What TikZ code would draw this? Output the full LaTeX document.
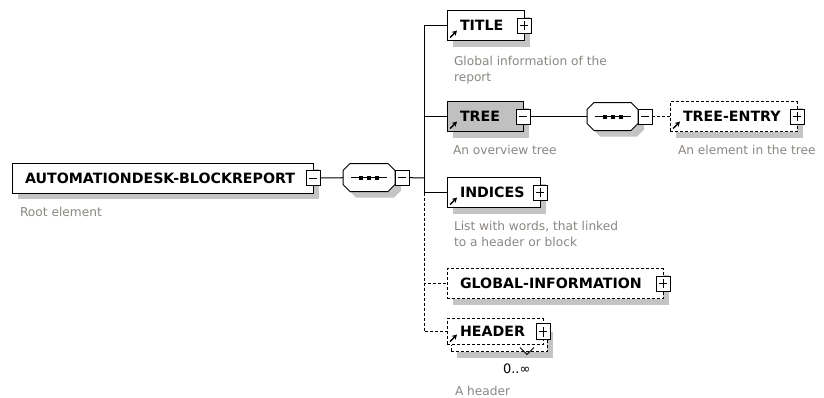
\documentclass[tikz,border=0pt]{standalone}
\usepackage{fontspec}
\setmainfont{DejaVu Sans}
\usepackage{tikz}
\tikzset{
  every node/.style = {
    inner sep = 0pt,
    outer sep = 0pt
  }
}
\usetikzlibrary{
arrows.meta,
shadows
}
\definecolor{descgray}{RGB}{138,134,130}
\definecolor{shadowgray}{RGB}{196,196,196}
\definecolor{treegray}{RGB}{192,192,192}

% octagon of a sequence compositor, drawn round an empty node
\newcommand\compositor[1]{%
  \fill [shadowgray, transform canvas = {shift = {(6pt,-6pt)}}]
    ([xshift = 7pt]#1.north west) -- ([xshift = -7pt]#1.north east)
    -- ([yshift = -7pt]#1.north east) -- ([yshift = 7pt]#1.south east)
    -- ([xshift = -7pt]#1.south east) -- ([xshift = 7pt]#1.south west)
    -- ([yshift = 7pt]#1.south west) -- ([yshift = -7pt]#1.north west) -- cycle;
  \draw [fill = white]
    ([xshift = 7pt]#1.north west) -- ([xshift = -7pt]#1.north east)
    -- ([yshift = -7pt]#1.north east) -- ([yshift = 7pt]#1.south east)
    -- ([xshift = -7pt]#1.south east) -- ([xshift = 7pt]#1.south west)
    -- ([yshift = 7pt]#1.south west) -- ([yshift = -7pt]#1.north west) -- cycle;
  \draw ([xshift = -18pt]#1.center) -- ([xshift = 18pt]#1.center);
  \foreach \dx in {-8, 0, 8}
    \fill ([xshift = \dx pt]#1.center) +(-2pt,-2pt) rectangle +(2pt,2pt);
}

\begin{document}
\begin{tikzpicture}[
      x = 1pt, y = -1pt,
      line width = 1pt,
      elem/.style = {
        draw, fill = white,
        anchor = west,
        minimum height = 30pt,
        inner xsep = 13pt,
        text width = #1,
        align = left,
        font = \fontsize{14.2}{16}\selectfont\bfseries
      },
      shade box/.style = {
        drop shadow={shadow xshift=6pt,shadow yshift=-6pt,fill=shadowgray,opacity=1}
      },
      optional/.style = {dash pattern = on 3pt off 2pt},
      expander/.style = {
        draw, fill = white,
        minimum width = 14pt, minimum height = 15pt
      },
      minus box/.style = {
        expander,
        path picture = {
          \draw ([xshift = 3pt]path picture bounding box.west)
            -- ([xshift = -3pt]path picture bounding box.east);
        }
      },
      plus box/.style = {
        expander,
        path picture = {
          \draw ([xshift = 3pt]path picture bounding box.west)
            -- ([xshift = -3pt]path picture bounding box.east);
          \draw ([yshift = 3pt]path picture bounding box.south)
            -- ([yshift = -3pt]path picture bounding box.north);
        }
      },
      sequence/.style = {
        minimum width = 52pt, minimum height = 28pt
      },
      ref arrow/.style = {
        line width = 1.4pt,
        -{Stealth[length = 5pt, width = 5.5pt]}
      },
      doc/.style = {
        anchor = base west, align = left, text = descgray,
        font = \fontsize{12.2}{16.5}\selectfont
      },
      ]
      \useasboundingbox (0,0) rectangle (824,397);

      % root element and its sequence
      \node [elem = 275pt, shade box] (root) at (12,178) {AUTOMATIONDESK-BLOCKREPORT};
      \node [minus box] (root-minus) at (root.east) {};
      \node [doc] (root-doc) at (20,216.5) {Root element};

      \node [sequence] (seq-main) at (369,177.5) {};
      \compositor{seq-main}
      \node [minus box, anchor = west] (seq-main-minus) at (seq-main.east) {};
      \coordinate (fork) at (424,178);

      % children
      \node [elem = 51pt, shade box] (title) at (447,25.5) {TITLE};
      \node [plus box] (title-plus) at (title.east) {};
      \node [doc] (title-doc) at (454,81.5) {Global information of the\\report};

      \node [elem = 50pt, shade box, fill = treegray] (tree) at (447,116.5) {TREE};
      \node [minus box] (tree-minus) at (tree.east) {};
      \node [doc] (tree-doc) at (453,154) {An overview tree};

      \node [sequence, minimum width = 51pt] (seq-tree) at (612.5,116.5) {};
      \compositor{seq-tree}
      \node [minus box, anchor = west] (seq-tree-minus) at (seq-tree.east) {};

      \node [elem = 101pt, shade box, optional] (entry) at (670,116.5) {TREE-ENTRY};
      \node [plus box] (entry-plus) at (entry.east) {};
      \node [doc] (entry-doc) at (678,154) {An element in the tree};

      \node [elem = 67pt, shade box] (indices) at (447,192.5) {INDICES};
      \node [plus box] (indices-plus) at (indices.east) {};
      \node [doc] (indices-doc) at (454,246.5) {List with words, that linked\\to a header or block};

      \node [elem = 190pt, shade box, optional] (global) at (447,283.5) {GLOBAL-INFORMATION};
      \node [plus box] (global-plus) at (global.east) {};

      \node [elem = 70pt, shade box, optional, minimum height = 26pt] (header-back) at (451,338.5) {};
      \node [elem = 70pt, optional, minimum height = 26pt] (header) at (447,331.5) {HEADER};
      \node [plus box, minimum height = 16pt] (header-plus) at (header.east) {};
      \draw ([shift = {(-27pt,4pt)}]header-back.south east) -- ++(7pt,-7pt) -- ++(7pt,7pt);
      \node [doc, text = black, font = \fontsize{13}{16}\selectfont] (header-occurs) at (503,373) {0..∞};
      \node [doc] (header-doc) at (455,395.5) {A header};

      % reference arrows
      \draw [ref arrow] ([shift = {(3pt,3pt)}]title.south west) -- ++(7pt,7pt);
      \draw [ref arrow] ([shift = {(3pt,3pt)}]tree.south west) -- ++(7pt,7pt);
      \draw [ref arrow] ([shift = {(3pt,3pt)}]indices.south west) -- ++(7pt,7pt);
      \draw [ref arrow] ([shift = {(3pt,3pt)}]entry.south west) -- ++(7pt,7pt);
      \draw [ref arrow] ([shift = {(3pt,3pt)}]header.south west) -- ++(7pt,7pt);

      % connectors
      \draw (root-minus) -- (seq-main);
      \draw (seq-main-minus) -- (fork);
      \draw (fork) |- (title);
      \draw (fork) |- (tree);
      \draw (fork) |- (indices);
      \draw [optional] (fork |- indices.west) |- (global);
      \draw [optional] (fork |- indices.west) |- (header);
      \draw (tree-minus) -- (seq-tree);
      \draw [optional] (seq-tree-minus) -- (entry);
    \end{tikzpicture}
\end{document}
